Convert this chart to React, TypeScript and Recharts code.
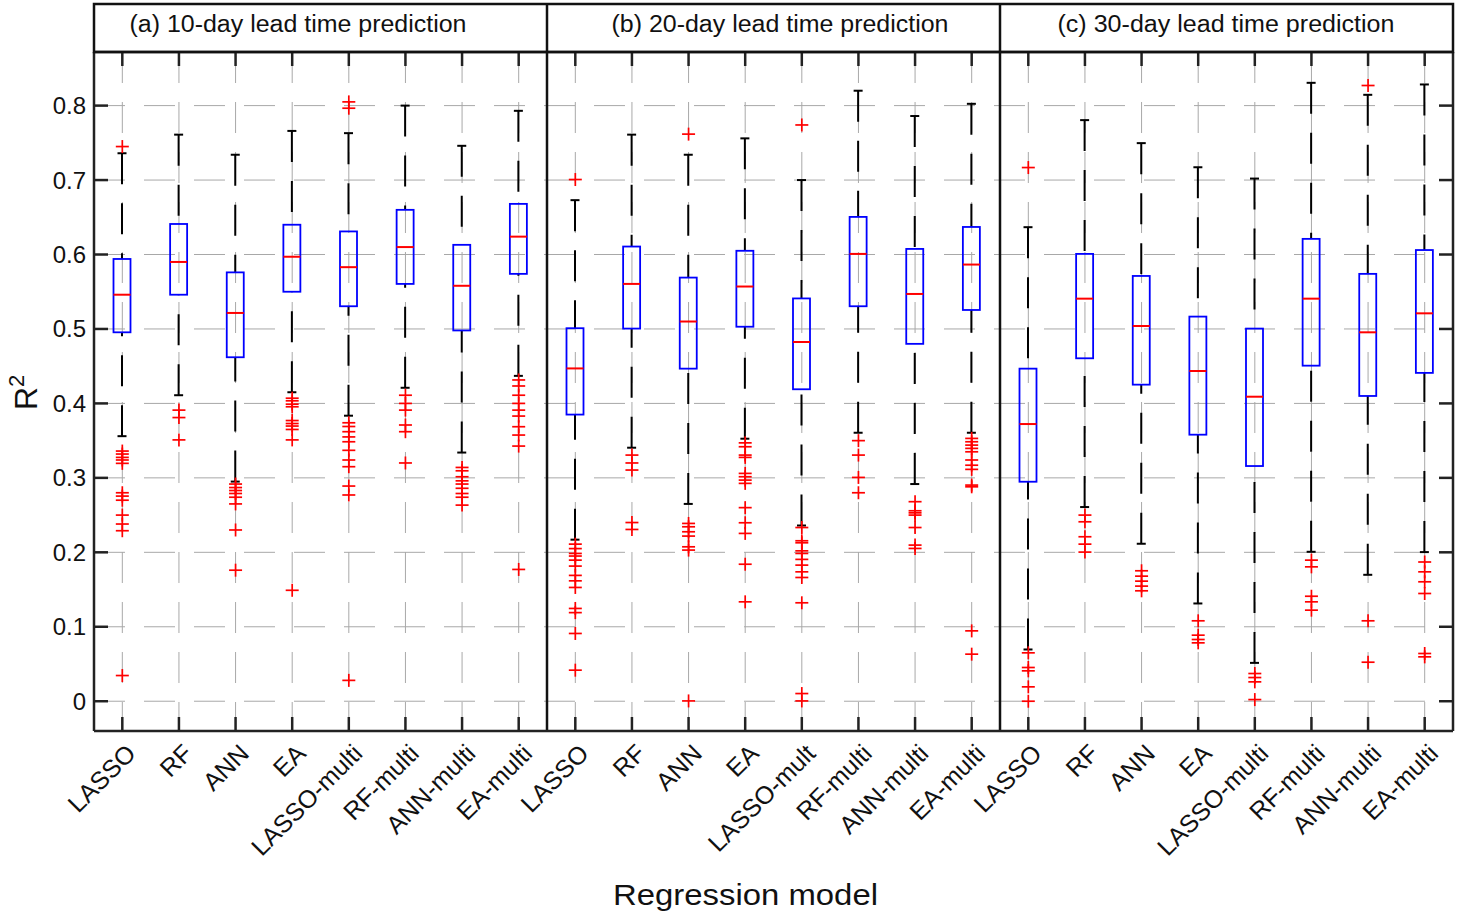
import React from 'react';
import { ComposedChart, Bar, Scatter, XAxis, YAxis, CartesianGrid, ReferenceLine } from 'recharts';

// ---------- data ----------
const panelTitles = ['(a) 10-day lead time prediction', '(b) 20-day lead time prediction', '(c) 30-day lead time prediction'];
const labelsA = ['LASSO', 'RF', 'ANN', 'EA', 'LASSO-multi', 'RF-multi', 'ANN-multi', 'EA-multi'];
const labelsB = ['LASSO', 'RF', 'ANN', 'EA', 'LASSO-mult', 'RF-multi', 'ANN-multi', 'EA-multi'];
const labelsC = ['LASSO', 'RF', 'ANN', 'EA', 'LASSO-multi', 'RF-multi', 'ANN-multi', 'EA-multi'];
const yTicks = [0, 0.1, 0.2, 0.3, 0.4, 0.5, 0.6, 0.7, 0.8];

// Panel (a) 10-day
const q1A = [0.4955, 0.546, 0.462, 0.55, 0.5305, 0.5605, 0.498, 0.574];
const medA = [0.546, 0.59, 0.5215, 0.597, 0.583, 0.61, 0.558, 0.624];
const q3A = [0.594, 0.641, 0.576, 0.64, 0.631, 0.66, 0.613, 0.668];
const loA = [0.356, 0.411, 0.295, 0.415, 0.3835, 0.421, 0.334, 0.437];
const hiA = [0.736, 0.761, 0.734, 0.766, 0.763, 0.8, 0.746, 0.793];
const outA = [
  [0.745, 0.336, 0.332, 0.3275, 0.324, 0.3195, 0.28, 0.2755, 0.27, 0.25, 0.238, 0.229, 0.0345],
  [0.391, 0.381, 0.351],
  [0.2917, 0.287, 0.283, 0.279, 0.274, 0.265, 0.23, 0.176],
  [0.407, 0.4035, 0.399, 0.3955, 0.377, 0.373, 0.3696, 0.365, 0.351, 0.149],
  [0.805, 0.7965, 0.374, 0.369, 0.362, 0.355, 0.3485, 0.337, 0.324, 0.315, 0.289, 0.277, 0.028],
  [0.411, 0.4, 0.391, 0.371, 0.362, 0.32],
  [0.314, 0.3095, 0.3015, 0.296, 0.2917, 0.286, 0.279, 0.274, 0.2634],
  [0.4315, 0.4234, 0.411, 0.4, 0.391, 0.383, 0.3687, 0.3575, 0.3427, 0.177],
];

// Panel (b) 20-day
const q1B = [0.385, 0.5005, 0.4467, 0.503, 0.419, 0.5305, 0.48, 0.5255];
const medB = [0.447, 0.5605, 0.51, 0.557, 0.4825, 0.6008, 0.547, 0.5865];
const q3B = [0.501, 0.6107, 0.569, 0.605, 0.541, 0.6505, 0.6075, 0.637];
const loB = [0.217, 0.3405, 0.265, 0.3526, 0.236, 0.3606, 0.2917, 0.3606];
const hiB = [0.673, 0.761, 0.734, 0.756, 0.7, 0.82, 0.786, 0.8024];
const outB = [
  [0.7007, 0.211, 0.205, 0.1985, 0.195, 0.1895, 0.1815, 0.169, 0.1617, 0.1528, 0.1246, 0.119, 0.091, 0.0417],
  [0.3306, 0.32, 0.3105, 0.24, 0.2307],
  [0.7617, 0.2388, 0.2343, 0.2276, 0.2218, 0.2074, 0.203, 0.0004],
  [0.347, 0.3418, 0.3306, 0.3275, 0.306, 0.3015, 0.297, 0.2926, 0.26, 0.2397, 0.2254, 0.184, 0.1335],
  [0.774, 0.2333, 0.2155, 0.2128, 0.202, 0.1985, 0.1905, 0.1828, 0.1738, 0.1662, 0.1322, 0.0103, 0.0004],
  [0.35, 0.3306, 0.3006, 0.28],
  [0.268, 0.2558, 0.253, 0.25, 0.2333, 0.2097, 0.2052],
  [0.353, 0.3485, 0.344, 0.3396, 0.335, 0.324, 0.317, 0.3114, 0.2903, 0.288, 0.0945, 0.0632],
];

// Panel (c) 30-day
const q1C = [0.2948, 0.4606, 0.4252, 0.358, 0.3159, 0.4507, 0.41, 0.441];
const medC = [0.3723, 0.5407, 0.504, 0.4435, 0.409, 0.5407, 0.4955, 0.521];
const q3C = [0.4467, 0.6008, 0.5712, 0.5166, 0.5005, 0.621, 0.574, 0.606];
const loC = [0.0695, 0.2608, 0.2115, 0.1313, 0.0515, 0.2007, 0.1698, 0.2003];
const hiC = [0.6367, 0.7805, 0.7496, 0.7172, 0.702, 0.8306, 0.8145, 0.8284];
const outC = [
  [0.7168, 0.065, 0.0453, 0.0408, 0.0193, 0.0],
  [0.25, 0.241, 0.2209, 0.211, 0.2003],
  [0.1752, 0.168, 0.1613, 0.1546, 0.1483],
  [0.108, 0.0887, 0.0829, 0.0784],
  [0.0372, 0.0318, 0.026, 0.0022],
  [0.1895, 0.1805, 0.141, 0.1335, 0.1223],
  [0.827, 0.108, 0.0524],
  [0.187, 0.1738, 0.1604, 0.1447, 0.0641, 0.0596],
];

// ---------- derived tables ----------
const panels = [
  { labels: labelsA, q1: q1A, med: medA, q3: q3A, lo: loA, hi: hiA, out: outA },
  { labels: labelsB, q1: q1B, med: medB, q3: q3B, lo: loB, hi: hiB, out: outB },
  { labels: labelsC, q1: q1C, med: medC, q3: q3C, lo: loC, hi: hiC, out: outC },
];
const perPanel = labelsA.length;
const allLabels: string[] = panels.flatMap((p) => p.labels);
const boxData = panels.flatMap((p, pi) =>
  p.labels.map((_, i) => ({
    x: pi * perPanel + i + 0.5,
    range: [p.lo[i], p.hi[i]],
    lo: p.lo[i], hi: p.hi[i], q1: p.q1[i], med: p.med[i], q3: p.q3[i],
  }))
);
const outlierData = panels.flatMap((p, pi) =>
  p.out.flatMap((vals, i) => vals.map((v) => ({ x: pi * perPanel + i + 0.5, y: v })))
);
const xTicks = boxData.map((d) => d.x);
const nCat = allLabels.length;

// ---------- layout ----------
const W = 1457;
const H = 917;
const plotLeft = 94;
const plotRight = 1453;
const plotTop = 52;
const headerTop = 4;
const FONT = '"Liberation Sans", Arial, Helvetica, sans-serif';
const titleCenters = [298, 780, 1226];

const BoxShape = (props: any) => {
  const { x, y, width, height, payload } = props;
  if (x == null || y == null || !payload) return null;
  const cx = x + width / 2;
  const top = Math.min(y, y + height);
  const bot = Math.max(y, y + height);
  const { lo, hi, q1, med, q3 } = payload;
  const py = (v: number) => bot - ((v - lo) / (hi - lo)) * (bot - top);
  const bw = 8.5;
  const cw = 4.5;
  return (
    <g>
      <line x1={cx} y1={py(hi)} x2={cx} y2={py(q3)} stroke="#000" strokeWidth={2} strokeDasharray="31 19" />
      <line x1={cx} y1={py(lo)} x2={cx} y2={py(q1)} stroke="#000" strokeWidth={2} strokeDasharray="31 19" />
      <line x1={cx - cw} y1={py(hi)} x2={cx + cw} y2={py(hi)} stroke="#000" strokeWidth={2} />
      <line x1={cx - cw} y1={py(lo)} x2={cx + cw} y2={py(lo)} stroke="#000" strokeWidth={2} />
      <rect x={cx - bw} y={py(q3)} width={bw * 2} height={py(q1) - py(q3)} fill="none" stroke="#0000ff" strokeWidth={1.8} />
      <line x1={cx - bw} y1={py(med)} x2={cx + bw} y2={py(med)} stroke="#ff0000" strokeWidth={2} />
    </g>
  );
};

const PlusShape = (props: any) => {
  const { cx, cy } = props;
  if (cx == null || cy == null) return null;
  const s = 6.5;
  return (
    <g>
      <line x1={cx - s} y1={cy} x2={cx + s} y2={cy} stroke="#ff0000" strokeWidth={1.7} />
      <line x1={cx} y1={cy - s} x2={cx} y2={cy + s} stroke="#ff0000" strokeWidth={1.7} />
    </g>
  );
};

const BottomTick = (props: any) => {
  const { x, y, payload } = props;
  const idx = Math.floor(payload.value);
  const label = allLabels[idx] ?? '';
  return (
    <g>
      <line x1={x} y1={y} x2={x} y2={y - 14} stroke="#222" strokeWidth={2.5} />
      <g transform={`translate(${x + 15},${y + 24})`}>
        <text transform="rotate(-45)" textAnchor="end" fontSize={25} fontFamily={FONT} fill="#111">
          {label}
        </text>
      </g>
    </g>
  );
};

const TopTick = (props: any) => {
  const { x, y } = props;
  return <line x1={x} y1={y} x2={x} y2={y + 14} stroke="#222" strokeWidth={2.5} />;
};

const LeftTick = (props: any) => {
  const { x, y, payload } = props;
  const v = payload.value as number;
  const label = v === 0 ? '0' : v.toFixed(1);
  return (
    <g>
      <line x1={x} y1={y} x2={x + 14} y2={y} stroke="#222" strokeWidth={2.5} />
      <text x={x - 8} y={y} textAnchor="end" dominantBaseline="central" fontSize={24} fontFamily={FONT} fill="#111">
        {label}
      </text>
    </g>
  );
};

const RightTick = (props: any) => {
  const { x, y } = props;
  return <line x1={x} y1={y} x2={x - 14} y2={y} stroke="#222" strokeWidth={2.5} />;
};

const domainY: [number, number] = [-0.04, 0.872];
const domainX: [number, number] = [0, nCat];

export default function App() {
  const panelW = (plotRight - plotLeft) / panels.length;
  return (
    <div style={{ position: 'absolute', left: 0, top: 0, width: W, height: H, background: '#fff' }}>
      <ComposedChart
        width={W}
        height={H}
        data={boxData}
        margin={{ top: plotTop - 1, right: W - plotRight - 1, bottom: 36, left: plotLeft - 60 }}
      >
        <CartesianGrid stroke="#a8a8a8" strokeWidth={1} strokeDasharray="31 19" />
        <XAxis
          xAxisId={0}
          type="number"
          dataKey="x"
          domain={domainX}
          ticks={xTicks}
          interval={0}
          height={150}
          tickSize={0}
          tickMargin={0}
          tickLine={false}
          axisLine={{ stroke: '#222', strokeWidth: 2.5 }}
          tick={<BottomTick />}
          allowDataOverflow
        />
        <XAxis
          xAxisId="top"
          orientation="top"
          type="number"
          dataKey="x"
          domain={domainX}
          ticks={xTicks}
          interval={0}
          height={1}
          tickSize={0}
          tickMargin={0}
          tickLine={false}
          axisLine={{ stroke: '#222', strokeWidth: 2.5 }}
          tick={<TopTick />}
          allowDataOverflow
        />
        <YAxis
          yAxisId={0}
          type="number"
          domain={domainY}
          ticks={yTicks}
          interval={0}
          width={60}
          tickSize={0}
          tickMargin={0}
          tickLine={false}
          axisLine={{ stroke: '#222', strokeWidth: 2.5 }}
          tick={<LeftTick />}
          allowDataOverflow
        />
        <YAxis
          yAxisId="right"
          orientation="right"
          type="number"
          domain={domainY}
          ticks={yTicks}
          interval={0}
          width={1}
          tickSize={0}
          tickMargin={0}
          tickLine={false}
          axisLine={{ stroke: '#222', strokeWidth: 2.5 }}
          tick={<RightTick />}
          allowDataOverflow
        />
        <ReferenceLine x={perPanel} stroke="#111" strokeWidth={2.5} />
        <ReferenceLine x={perPanel * 2} stroke="#111" strokeWidth={2.5} />
        <Bar dataKey="range" barSize={26} shape={<BoxShape />} isAnimationActive={false} />
        <Scatter data={outlierData} dataKey="y" shape={<PlusShape />} isAnimationActive={false} />
      </ComposedChart>
      <svg
        width={W}
        height={H}
        style={{ position: 'absolute', left: 0, top: 0, pointerEvents: 'none' }}
      >
        <rect x={plotLeft} y={headerTop} width={plotRight - plotLeft} height={plotTop - headerTop} fill="none" stroke="#111" strokeWidth={2.5} />
        {[1, 2].map((k) => (
          <line key={k} x1={plotLeft + panelW * k} y1={headerTop} x2={plotLeft + panelW * k} y2={plotTop} stroke="#111" strokeWidth={2.5} />
        ))}
        {panelTitles.map((t, i) => (
          <text
            key={t}
            x={titleCenters[i]}
            y={32}
            textAnchor="middle"
            fontSize={23}
            fontFamily={FONT}
            fill="#111"
            textLength={337}
            lengthAdjust="spacingAndGlyphs"
          >
            {t}
          </text>
        ))}
        <text x={613} y={905} fontSize={30} fontFamily={FONT} fill="#111" textLength={265} lengthAdjust="spacingAndGlyphs">
          Regression model
        </text>
        <text transform="translate(37,410) rotate(-90)" fontSize={32} fontFamily={FONT} fill="#111">
          R<tspan dy={-13} fontSize={22}>2</tspan>
        </text>
      </svg>
    </div>
  );
}
